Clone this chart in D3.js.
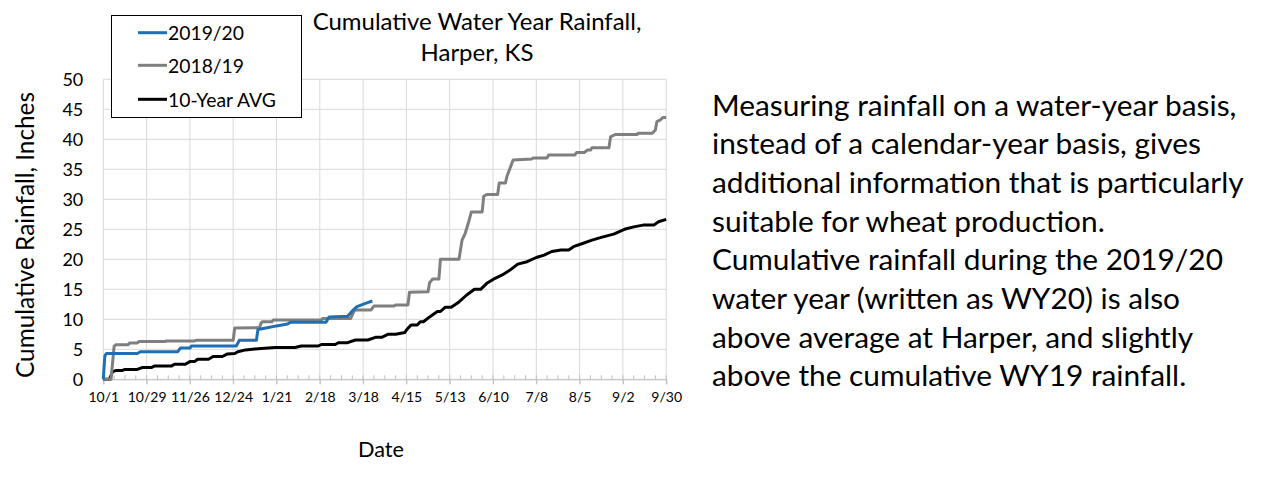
<!DOCTYPE html>
<html><head><meta charset="utf-8">
<script src="https://cdn.jsdelivr.net/npm/d3@7"></script>
<style>body{margin:0;background:#fff}svg{display:block}text{font-family:Lato,"Open Sans",sans-serif;fill:#000}</style>
</head><body><svg id="c" width="1280" height="480"></svg>
<script>
// ---- data (day index from Oct 1, cumulative inches) ----
const xTickLabels = ["10/1","10/29","11/26","12/24","1/21","2/18","3/18","4/15","5/13","6/10","7/8","8/5","9/2","9/30"];
const yTicks = [0,5,10,15,20,25,30,35,40,45,50];
const seriesNames = ["2019/20","2018/19","10-Year AVG"];
const seriesColors = ["#1f6fb5","#7f7f7f","#000000"];
const wy20 = [[0,0],[1,3.9],[2,4.3],[22,4.3],[24,4.6],[48,4.6],[50,5.2],[56,5.2],[57,5.55],[86,5.55],[88,6.5],[99,6.5],[100,8.3],[106,8.6],[112,8.9],[119,9.2],[121,9.5],[144,9.5],[146,10.4],[158,10.5],[161,11.4],[164,12.1],[170,12.7],[174,13.05]];
const wy19 = [[0,0],[5,0],[7,5.5],[8,5.75],[16,5.75],[17,6.05],[22,6.05],[23,6.3],[40,6.3],[41,6.4],[59,6.4],[60,6.5],[84,6.5],[85,8.55],[101,8.6],[102,9.35],[103,9.6],[109,9.6],[110,9.9],[141,9.9],[142,10.15],[160,10.15],[162,11.3],[163,11.55],[173,11.55],[175,12.2],[188,12.2],[189,12.4],[197,12.4],[198,14.5],[210,14.6],[211,16.1],[213,16.7],[217,16.7],[218,20.0],[230,20.0],[232,23.2],[234,24.3],[236,26.0],[238,27.9],[245,27.9],[246,30.5],[248,30.8],[255,30.8],[256,32.7],[260,32.7],[261,33.8],[265,36.55],[277,36.7],[278,36.9],[287,36.9],[288,37.4],[305,37.4],[306,37.8],[311,37.8],[313,38.2],[315,38.2],[316,38.6],[327,38.6],[328,40.4],[331,40.8],[345,40.8],[346,41.0],[355,41.0],[357,41.55],[358,42.95],[360,43.2],[362,43.65],[364,43.65]];
const avg10 = [[0,0],[4,0],[6,1.27],[8,1.45],[12,1.45],[14,1.65],[22,1.65],[25,1.95],[31,1.95],[33,2.2],[44,2.2],[46,2.5],[53,2.5],[56,2.95],[59,2.95],[61,3.35],[68,3.35],[71,3.8],[77,3.8],[80,4.2],[85,4.3],[87,4.6],[92,4.9],[98,5.05],[111,5.3],[124,5.3],[128,5.55],[139,5.55],[141,5.8],[150,5.8],[152,6.1],[158,6.1],[163,6.55],[171,6.55],[176,7.0],[180,7.0],[184,7.5],[189,7.5],[195,7.8],[196,8.2],[199,9.05],[203,9.05],[205,9.6],[207,9.6],[211,10.4],[216,11.3],[218,11.3],[221,12.0],[225,12.0],[230,12.9],[235,14.05],[240,15.0],[244,15.0],[248,16.0],[252,16.65],[258,17.4],[263,18.2],[268,19.2],[274,19.6],[280,20.3],[285,20.7],[290,21.3],[296,21.55],[301,21.55],[304,22.1],[309,22.55],[316,23.2],[322,23.65],[330,24.2],[337,25.0],[343,25.4],[349,25.7],[356,25.7],[359,26.25],[364,26.65]];
const titleLines = ["Cumulative Water Year Rainfall,","Harper, KS"];
const xTitle = "Date";
const yTitle = "Cumulative Rainfall, Inches";
const paragraph = ["Measuring rainfall on a water-year basis,","instead of a calendar-year basis, gives","additional information that is particularly","suitable for wheat production.","Cumulative rainfall during the 2019/20","water year (written as WY20) is also","above average at Harper, and slightly","above the cumulative WY19 rainfall."];

const svg = d3.select("#c");
const L=103.3, R=666.2, T=79.3, B=379.3;
const x = d3.scaleLinear().domain([0,364]).range([L,R]);
const y = d3.scaleLinear().domain([0,50]).range([B,T]);
const xTickVals = xTickLabels.map((d,i)=>i*28);

function fit(sel, w){ const len=sel.node().getComputedTextLength(); const fs=parseFloat(sel.attr("font-size")); sel.attr("font-size", fs*w/len); return fs*w/len; }

// gridlines
svg.append("g").selectAll("line").data(yTicks).join("line")
  .attr("x1",L).attr("x2",R).attr("y1",d=>y(d)).attr("y2",d=>y(d))
  .attr("stroke","#d9d9d9").attr("stroke-width",1);
svg.append("g").selectAll("line").data(xTickVals).join("line")
  .attr("x1",d=>x(d)).attr("x2",d=>x(d)).attr("y1",T).attr("y2",B+5)
  .attr("stroke","#d9d9d9").attr("stroke-width",1);
// minor ticks weekly
svg.append("g").selectAll("line").data(d3.range(0,365,7)).join("line")
  .attr("x1",d=>x(d)).attr("x2",d=>x(d)).attr("y1",B-4).attr("y2",B)
  .attr("stroke","#bfbfbf").attr("stroke-width",1);
// x axis
const xa = svg.append("g").attr("transform",`translate(0,${B})`)
  .call(d3.axisBottom(x).tickValues(xTickVals).tickFormat((d,i)=>xTickLabels[i]).tickSize(5).tickPadding(8));
xa.select(".domain").attr("stroke","#bfbfbf");
xa.selectAll(".tick line").attr("stroke","#bfbfbf");
xa.selectAll("text").attr("font-family","Lato").attr("font-size",14).attr("fill","#000");
// y axis labels
const ya = svg.append("g").attr("transform",`translate(${L},0)`)
  .call(d3.axisLeft(y).tickValues(yTicks).tickSize(0).tickPadding(20));
ya.select(".domain").remove();
ya.selectAll("text").attr("font-family","Lato").attr("font-size",18).attr("fill","#000");

// lines
const line = d3.line().x(d=>x(d[0])).y(d=>y(d[1]));
const all = [wy20, wy19, avg10];
[2,1,0].forEach(i=>{
  svg.append("path").datum(all[i]).attr("d",line).attr("fill","none")
    .attr("stroke",seriesColors[i]).attr("stroke-width",3).attr("stroke-linejoin","round");
});

// title
const tt = svg.append("g").selectAll("text").data(titleLines).join("text")
  .attr("x",477).attr("y",(d,i)=>[20,51][i]).attr("text-anchor","middle")
  .attr("dominant-baseline","central").attr("font-size",20).text(d=>d);
const tfs = fit(d3.select(tt.nodes()[0]),329);
tt.attr("font-size",tfs);

// axis titles
const xt = svg.append("text").attr("x",381).attr("y",449).attr("text-anchor","middle").attr("dominant-baseline","central").attr("font-size",18).text(xTitle);
fit(xt,46);
const yt = svg.append("text").attr("transform","translate(24,235) rotate(-90)").attr("text-anchor","middle").attr("dominant-baseline","central").attr("font-size",18).text(yTitle);
fit(yt,286);

// legend
svg.append("rect").attr("x",111.5).attr("y",15.5).attr("width",190).attr("height",102).attr("fill","#fff").attr("stroke","#000").attr("stroke-width",1);
const lg = svg.append("g").selectAll("g").data(seriesNames).join("g");
lg.append("line").attr("x1",138).attr("x2",167).attr("y1",(d,i)=>[32.7,65.3,99.3][i]).attr("y2",(d,i)=>[32.7,65.3,99.3][i])
  .attr("stroke",(d,i)=>seriesColors[i]).attr("stroke-width",3);
const lt = lg.append("text").attr("x",168).attr("y",(d,i)=>[32.7,65.3,99.3][i]).attr("dominant-baseline","central").attr("font-size",18).text(d=>d);
const lfs = fit(d3.select(lt.nodes()[2]),108);
lt.attr("font-size",lfs);

// paragraph
const pt = svg.append("g").selectAll("text").data(paragraph).join("text")
  .attr("x",712).attr("y",(d,i)=>104+i*38.7).attr("dominant-baseline","central").attr("font-size",27).text(d=>d);
const pfs = fit(d3.select(pt.nodes()[2]),532);
pt.attr("font-size",pfs);
</script></body></html>
